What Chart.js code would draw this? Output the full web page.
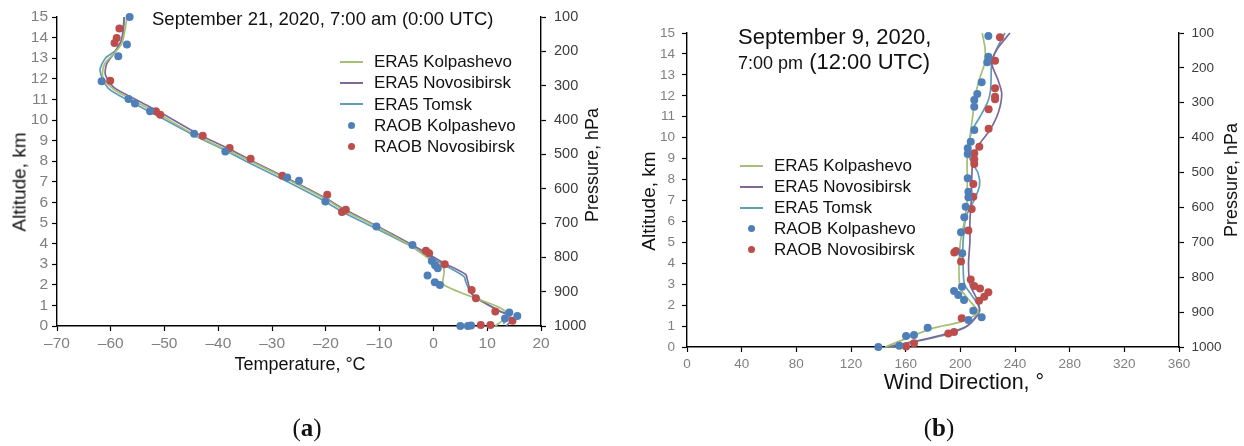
<!DOCTYPE html>
<html>
<head>
<meta charset="utf-8">
<script src="https://cdn.jsdelivr.net/npm/chart.js@4.4.0/dist/chart.umd.min.js"></script>
<style>
  body { margin: 0; background: #fff; width: 1244px; height: 446px; overflow: hidden; position: relative;
         font-family: "Liberation Sans", Arial, sans-serif; color: #111; }
  .panel { position: absolute; top: 0; }
  .txt { position: absolute; white-space: nowrap; line-height: 1; }
  .vert { transform: translate(-50%, -50%) rotate(-90deg); }
  .hcenter { transform: translateX(-50%); }
  .legend-row { position: absolute; display: flex; align-items: center; height: 17px; font-size: 17px; line-height: 17px; white-space: nowrap; }
  .swatch { width: 23px; height: 17px; margin-right: 11px; display: flex; align-items: center; justify-content: center; }
  .tag { position: absolute; top: 414px; font-family: "Liberation Serif", "DejaVu Serif", serif; font-size: 25px; transform: translateX(-50%); }
</style>
</head>
<body>

<div class="panel" style="left:0"><canvas id="tempChart" width="620" height="446"></canvas></div>
<div class="panel" style="left:620px"><canvas id="windChart" width="624" height="446"></canvas></div>

<!-- panel (a) texts -->
<div class="txt" style="left:152px; top:10px; font-size:18.5px">September 21, 2020, 7:00 am (0:00 UTC)</div>
<div class="txt vert" style="left:19px; top:182px; font-size:19px">Altitude, km</div>
<div class="txt hcenter" style="left:300px; top:355px; font-size:18px">Temperature, °C</div>
<div class="txt vert" style="left:592px; top:165px; font-size:18px">Pressure, hPa</div>
<div id="legendTemp"></div>
<div class="tag" style="left:307px">(<b>a</b>)</div>

<!-- panel (b) texts -->
<div class="txt" style="left:738px; top:26px; font-size:22px">September 9, 2020,</div>
<div class="txt" style="left:738px; top:51px; font-size:22px; line-height:22px"><span style="font-size:18px">7:00 pm</span> (12:00 UTC)</div>
<div class="txt vert" style="left:648px; top:201px; font-size:19px">Altitude, km</div>
<div class="txt hcenter" style="left:964px; top:372px; font-size:21.5px">Wind Direction, °</div>
<div class="txt vert" style="left:1231px; top:180px; font-size:18px">Pressure, hPa</div>
<div id="legendWind"></div>
<div class="tag" style="left:939px">(<b>b</b>)</div>

<script>
// axis ticks
const altTicks = [0, 1, 2, 3, 4, 5, 6, 7, 8, 9, 10, 11, 12, 13, 14, 15];
const pressTicks = [100, 200, 300, 400, 500, 600, 700, 800, 900, 1000];
const tempTicks = [-70, -60, -50, -40, -30, -20, -10, 0, 10, 20];
const dirTicks = [0, 40, 80, 120, 160, 200, 240, 280, 320, 360];

// (a) temperature profiles, 21 Sep 2020 00 UTC
const tEraKolp = [11.5, 13.0, 13.8, 11.9, 1.9, 2.0, 1.7, -0.2, -4.0, -10.5, -16.5, -20.0, -27.0, -34.0, -38.5, -44.5, -51.5, -55.5, -59.5, -61.5, -61.2, -59.5, -58.0, -57.4, -57.0];
const hEraKolp = [0.0, 0.3, 0.6, 0.95, 2.0, 2.65, 2.9, 3.15, 3.85, 4.8, 5.6, 6.15, 7.1, 8.0, 8.55, 9.3, 10.35, 10.9, 11.5, 12.1, 12.7, 13.2, 13.7, 14.3, 15.0];
const tEraNovo = [13.5, 14.2, 14.1, 12.5, 7.3, 6.3, 6.0, 2.0, -1.0, -4.0, -10.5, -16.5, -20.0, -27.0, -34.0, -38.0, -44.0, -51.0, -55.0, -59.5, -61.0, -60.8, -59.5, -58.0, -57.5];
const hEraNovo = [0.0, 0.2, 0.55, 0.7, 1.5, 2.25, 2.5, 3.05, 3.5, 3.95, 4.85, 5.65, 6.2, 7.15, 8.05, 8.6, 9.35, 10.4, 10.95, 11.6, 12.2, 12.7, 13.2, 13.9, 15.0];
const tEraTomsk = [13.0, 13.8, 12.0, 7.0, 6.0, 5.7, 2.6, 0.0, -4.0, -10.8, -17.0, -20.5, -27.5, -34.5, -38.5, -44.5, -52.0, -56.0, -60.5, -62.0, -61.0, -59.0, -57.8, -57.5];
const hEraTomsk = [0.1, 0.5, 0.75, 1.6, 2.15, 2.4, 2.88, 3.25, 3.85, 4.75, 5.55, 6.1, 7.05, 7.95, 8.5, 9.25, 10.3, 10.85, 11.55, 12.4, 13.0, 13.4, 14.0, 15.0];
const tRaobKolp = [5.0, 6.4, 7.0, 13.3, 15.6, 14.1, 1.2, 0.25, -1.1, 0.8, 0.3, -0.3, -3.9, -10.6, -20.1, -25.0, -27.2, -38.7, -44.5, -52.7, -55.5, -56.7, -61.7, -58.6, -57.0, -56.5];
const hRaobKolp = [0.0, 0.0, 0.02, 0.37, 0.49, 0.65, 1.99, 2.12, 2.45, 2.8, 2.95, 3.15, 3.93, 4.83, 6.04, 7.05, 7.21, 8.47, 9.33, 10.42, 10.8, 11.02, 11.88, 13.1, 13.66, 15.0];
const tRaobNovo = [8.8, 10.6, 14.7, 11.5, 7.9, 7.1, 2.1, -0.8, -1.4, -17.0, -16.3, -19.75, -28.1, -34.0, -37.9, -42.9, -50.8, -51.6, -60.1, -59.3, -58.9, -58.4];
const hRaobNovo = [0.05, 0.05, 0.26, 0.7, 1.35, 1.75, 3.0, 3.53, 3.65, 5.53, 5.64, 6.37, 7.29, 8.12, 8.64, 9.24, 10.26, 10.42, 11.91, 13.74, 13.98, 14.44];

// (b) wind direction profiles, 9 Sep 2020 12 UTC
const dEraKolp = [145, 160, 180, 200, 213, 207, 200, 199, 200, 203, 205, 205, 205, 207, 209, 211, 214, 218, 218, 216];
const wEraKolp = [0, 0.4, 0.9, 1.2, 1.65, 2.2, 2.8, 3.8, 5.0, 6.0, 7.0, 8.0, 9.0, 10.0, 11.0, 12.0, 12.8, 13.6, 14.3, 15.0];
const dEraNovo = [145, 165, 185, 205, 214, 212, 207, 206, 207, 207, 208, 208.5, 209.5, 214.4, 221.7, 227.8, 230.3, 227.6, 223, 226.6, 236.3];
const wEraNovo = [0, 0.25, 0.55, 1.0, 1.7, 2.3, 3.0, 4.0, 5.0, 6.0, 7.0, 8.3, 9.1, 9.73, 10.37, 11.2, 12.1, 12.75, 13.55, 14.2, 15.0];
const dEraTomsk = [148, 170, 190, 205, 214, 208, 203, 202, 202, 204, 210, 214, 213, 207, 206, 209, 214.4, 220, 222, 222.5, 223, 227, 232.7];
const wEraTomsk = [0, 0.3, 0.6, 1.0, 1.8, 2.5, 3.0, 4.0, 5.0, 6.2, 7.0, 7.7, 8.3, 9.0, 9.7, 10.4, 11.0, 11.7, 12.2, 12.8, 13.6, 14.3, 15.0];
const dRaobKolp = [140.0, 155.4, 160.3, 166.1, 176.1, 205.9, 215.6, 209.5, 202.7, 198.5, 195.4, 201.2, 201.4, 200.5, 202.9, 203.9, 205.9, 205.9, 205.4, 205.4, 205.4, 207.6, 210.2, 210.2, 210.2, 212.4, 215.6, 219.7, 220.5, 220.5];
const wRaobKolp = [0.0, 0.06, 0.53, 0.57, 0.92, 1.29, 1.42, 1.73, 2.25, 2.48, 2.68, 2.88, 4.48, 5.48, 6.2, 6.7, 7.15, 7.42, 8.06, 9.22, 9.49, 9.81, 10.37, 11.48, 11.8, 12.09, 12.65, 13.6, 13.87, 14.86];
const dRaobNovo = [160.3, 166.1, 191.2, 195.4, 201.0, 213.7, 217.5, 220.5, 214.4, 210.2, 207.6, 200.5, 196.8, 195.6, 205.9, 208.3, 209.5, 209.5, 210.2, 210.2, 210.2, 213.9, 220.7, 220.7, 225.4, 225.4, 225.4, 225.4, 229.0];
const wRaobNovo = [0.02, 0.18, 0.65, 0.72, 1.37, 2.21, 2.4, 2.61, 2.8, 2.91, 3.23, 4.08, 4.59, 4.52, 5.56, 6.59, 7.18, 7.79, 8.74, 8.97, 9.25, 9.57, 10.42, 11.36, 11.83, 11.96, 12.36, 13.68, 14.8];

const COLORS = {
  eraKolp: '#a5bf74',
  eraNovo: '#7e6898',
  eraTomsk: '#5d9cba',
  raobKolp: '#4e7fb8',
  raobNovo: '#bc4d4a'
};

const pts = (xs, ys) => xs.map((x, i) => ({ x: x, y: ys[i] }));

function lineSet(label, xs, ys, color) {
  return { label, data: pts(xs, ys), showLine: true, borderColor: color, borderWidth: 1.7,
           pointRadius: 0, tension: 0.25, fill: false, clip: false, order: 1 };
}

function dotSet(label, xs, ys, color) {
  return { label, data: pts(xs, ys), showLine: false, backgroundColor: color, borderColor: color,
           pointRadius: 4, pointBorderWidth: 0, clip: false, order: 0 };
}

const fixedTicks = list => scale => { scale.ticks = list.map(v => ({ value: v })); };
const dash = v => (v < 0 ? '\u2013' + Math.abs(v) : String(v));

function axisBase(tickList, fontSize, color, pad) {
  return {
    type: 'linear',
    afterBuildTicks: fixedTicks(tickList),
    grid: { drawOnChartArea: false, drawTicks: true, tickLength: 5, tickColor: '#000', tickWidth: 1.2 },
    border: { display: true, color: '#000', width: 1.4 },
    ticks: { color: color, font: { size: fontSize, family: '"Liberation Sans", Arial, sans-serif' },
             padding: pad, autoSkip: false, maxRotation: 0, callback: v => dash(v) }
  };
}

function buildChart(id, datasets, opt) {
  const x = axisBase(opt.xTicks, opt.tickSize, '#808080', opt.xPad);
  Object.assign(x, { position: 'bottom', min: opt.xTicks[0], max: opt.xTicks[opt.xTicks.length - 1],
                     afterFit: s => { s.height = opt.bottomH; } });
  const y = axisBase(altTicks, opt.tickSize, '#808080', opt.yPad);
  Object.assign(y, { position: 'left', min: 0, max: 15, afterFit: s => { s.width = opt.leftW; } });
  const p = axisBase(pressTicks, opt.pressSize, '#3c3c3c', opt.pPad);
  Object.assign(p, { position: 'right', reverse: true, min: 100, max: 1000, afterFit: s => { s.width = opt.rightW; } });

  return new Chart(document.getElementById(id), {
    type: 'scatter',
    data: { datasets },
    options: {
      responsive: false,
      animation: false,
      layout: { padding: { top: opt.top, left: 0, right: 0, bottom: 0 } },
      plugins: { legend: { display: false }, tooltip: { enabled: false } },
      scales: { x, y, p }
    }
  });
}

// legend built from the chart's own datasets
function htmlLegend(chart, boxId, left, top, step) {
  const box = document.getElementById(boxId);
  chart.data.datasets.forEach((ds, i) => {
    const row = document.createElement('div');
    row.className = 'legend-row';
    row.style.left = left + 'px';
    row.style.top = (top + i * step) + 'px';
    const sw = document.createElement('span');
    sw.className = 'swatch';
    const mark = document.createElement('span');
    if (ds.showLine) {
      mark.style.cssText = 'width:23px;height:2px;background:' + ds.borderColor;
    } else {
      mark.style.cssText = 'width:7px;height:7px;border-radius:50%;background:' + ds.backgroundColor;
    }
    sw.appendChild(mark);
    row.appendChild(sw);
    row.appendChild(document.createTextNode(ds.label));
    box.appendChild(row);
  });
}

const tempChart = buildChart('tempChart', [
  lineSet('ERA5 Kolpashevo', tEraKolp, hEraKolp, COLORS.eraKolp),
  lineSet('ERA5 Novosibirsk', tEraNovo, hEraNovo, COLORS.eraNovo),
  lineSet('ERA5 Tomsk', tEraTomsk, hEraTomsk, COLORS.eraTomsk),
  dotSet('RAOB Kolpashevo', tRaobKolp, hRaobKolp, COLORS.raobKolp),
  dotSet('RAOB Novosibirsk', tRaobNovo, hRaobNovo, COLORS.raobNovo)
], { xTicks: tempTicks, top: 17, leftW: 57, rightW: 79, bottomH: 120,
     tickSize: 15.5, pressSize: 14.5, xPad: 3, yPad: 4, pPad: 8 });

const windChart = buildChart('windChart', [
  lineSet('ERA5 Kolpashevo', dEraKolp, wEraKolp, COLORS.eraKolp),
  lineSet('ERA5 Novosibirsk', dEraNovo, wEraNovo, COLORS.eraNovo),
  lineSet('ERA5 Tomsk', dEraTomsk, wEraTomsk, COLORS.eraTomsk),
  dotSet('RAOB Kolpashevo', dRaobKolp, wRaobKolp, COLORS.raobKolp),
  dotSet('RAOB Novosibirsk', dRaobNovo, wRaobNovo, COLORS.raobNovo)
], { xTicks: dirTicks, top: 33, leftW: 67, rightW: 65, bottomH: 99,
     tickSize: 13.5, pressSize: 13.5, xPad: 4, yPad: 7, pPad: 7.5 });

htmlLegend(tempChart, 'legendTemp', 340, 53, 21.25);
htmlLegend(windChart, 'legendWind', 740, 157, 21.1);
</script>
</body>
</html>
